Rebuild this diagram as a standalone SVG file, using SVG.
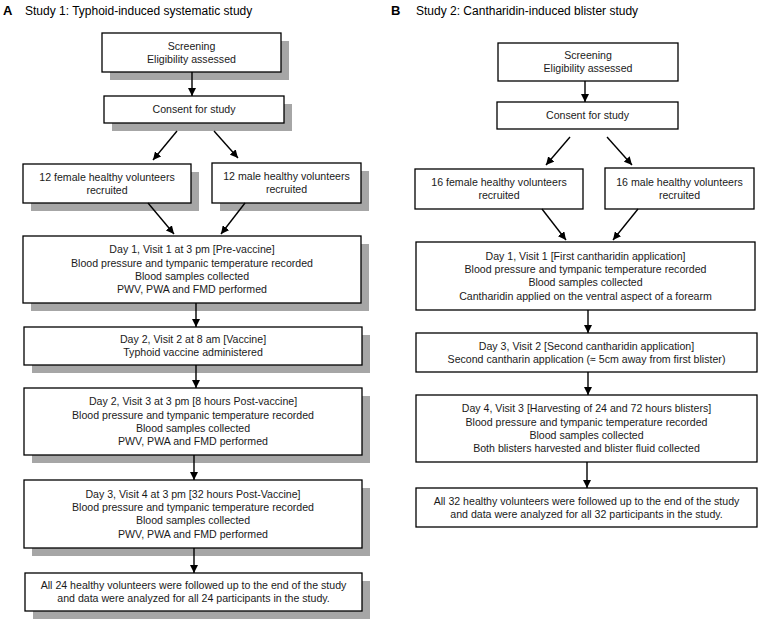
<svg xmlns="http://www.w3.org/2000/svg" width="764" height="623" viewBox="0 0 764 623">
<defs>
<style>
.bg{fill:#ffffff}
.shadow{fill:#a6a6a6}
.box{fill:#ffffff;stroke:#000000;stroke-width:1.3}
.t{font-family:"Liberation Sans",Arial,sans-serif;font-size:10.6px;fill:#1a1a1a;text-anchor:middle}
.h{font-family:"Liberation Sans",Arial,sans-serif;font-size:12px;fill:#000000}
.hb{font-family:"Liberation Sans",Arial,sans-serif;font-size:13px;font-weight:bold;fill:#000000}
.c{stroke:#000000;stroke-width:1.4;fill:none;marker-end:url(#ah)}
</style>
<marker id="ah" markerUnits="userSpaceOnUse" markerWidth="9" markerHeight="8" refX="8" refY="4" orient="auto">
<path d="M0,0 L8,4 L0,8 z" fill="#000000"/>
</marker>
</defs>
<rect class="bg" x="0" y="0" width="764" height="623"/>

<g id="headers">
<text class="hb" x="3" y="14.5">A</text>
<text class="h" x="25" y="14.5">Study 1: Typhoid-induced systematic study</text>
<text class="hb" x="391" y="14.5">B</text>
<text class="h" x="416" y="14.5">Study 2: Cantharidin-induced blister study</text>
</g>

<!-- Panel A nodes -->
<g id="a-screening">
<rect class="shadow" x="110" y="41" width="179" height="39"/>
<rect class="box" x="102" y="33" width="179" height="39"/>
<text class="t" x="191.5" y="49.6">Screening</text>
<text class="t" x="191.5" y="62.9">Eligibility assessed</text>
</g>
<g id="a-consent">
<rect class="shadow" x="112" y="104" width="180" height="27"/>
<rect class="box" x="104" y="96" width="180" height="27"/>
<text class="t" x="194" y="113.3">Consent for study</text>
</g>
<g id="a-female">
<rect class="shadow" x="31" y="172" width="168" height="39"/>
<rect class="box" x="23" y="164" width="168" height="39"/>
<text class="t" x="107" y="180.6">12 female healthy volunteers</text>
<text class="t" x="107" y="193.9">recruited</text>
</g>
<g id="a-male">
<rect class="shadow" x="220" y="171" width="149" height="40"/>
<rect class="box" x="212" y="163" width="149" height="40"/>
<text class="t" x="286.5" y="180.1">12 male healthy volunteers</text>
<text class="t" x="286.5" y="193.4">recruited</text>
</g>
<g id="a-visit1">
<rect class="shadow" x="31" y="244" width="338" height="67"/>
<rect class="box" x="23" y="236" width="338" height="67"/>
<text class="t" x="192" y="253.3">Day 1, Visit 1 at 3 pm [Pre-vaccine]</text>
<text class="t" x="192" y="266.6">Blood pressure and tympanic temperature recorded</text>
<text class="t" x="192" y="279.9">Blood samples collected</text>
<text class="t" x="192" y="293.2">PWV, PWA and FMD performed</text>
</g>
<g id="a-visit2">
<rect class="shadow" x="32" y="335" width="338" height="38"/>
<rect class="box" x="24" y="327" width="338" height="38"/>
<text class="t" x="193" y="343.1">Day 2, Visit 2 at 8 am [Vaccine]</text>
<text class="t" x="193" y="356.4">Typhoid vaccine administered</text>
</g>
<g id="a-visit3">
<rect class="shadow" x="32" y="396" width="338" height="67"/>
<rect class="box" x="24" y="388" width="338" height="67"/>
<text class="t" x="193" y="405.3">Day 2, Visit 3 at 3 pm [8 hours Post-vaccine]</text>
<text class="t" x="193" y="418.6">Blood pressure and tympanic temperature recorded</text>
<text class="t" x="193" y="431.9">Blood samples collected</text>
<text class="t" x="193" y="445.2">PWV, PWA and FMD performed</text>
</g>
<g id="a-visit4">
<rect class="shadow" x="32" y="488" width="338" height="68"/>
<rect class="box" x="24" y="480" width="338" height="68"/>
<text class="t" x="193" y="497.8">Day 3, Visit 4 at 3 pm [32 hours Post-Vaccine]</text>
<text class="t" x="193" y="511.1">Blood pressure and tympanic temperature recorded</text>
<text class="t" x="193" y="524.4">Blood samples collected</text>
<text class="t" x="193" y="537.7">PWV, PWA and FMD performed</text>
</g>
<g id="a-final">
<rect class="shadow" x="33" y="581" width="337" height="38"/>
<rect class="box" x="25" y="573" width="337" height="38"/>
<text class="t" x="193.5" y="589.1">All 24 healthy volunteers were followed up to the end of the study</text>
<text class="t" x="193.5" y="602.4">and data were analyzed for all 24 participants in the study.</text>
</g>

<!-- Panel B nodes -->
<g id="b-screening">
<rect class="box" x="498" y="43" width="180" height="38"/>
<text class="t" x="588" y="59.1">Screening</text>
<text class="t" x="588" y="72.4">Eligibility assessed</text>
</g>
<g id="b-consent">
<rect class="box" x="497" y="102" width="181" height="27"/>
<text class="t" x="587.5" y="119.3">Consent for study</text>
</g>
<g id="b-female">
<rect class="box" x="415" y="169" width="168" height="40"/>
<text class="t" x="499" y="186.1">16 female healthy volunteers</text>
<text class="t" x="499" y="199.4">recruited</text>
</g>
<g id="b-male">
<rect class="box" x="605" y="168" width="149" height="41"/>
<text class="t" x="679.5" y="185.6">16 male healthy volunteers</text>
<text class="t" x="679.5" y="198.9">recruited</text>
</g>
<g id="b-visit1">
<rect class="box" x="416" y="242" width="339" height="68"/>
<text class="t" x="585.5" y="259.8">Day 1, Visit 1 [First cantharidin application]</text>
<text class="t" x="585.5" y="273.1">Blood pressure and tympanic temperature recorded</text>
<text class="t" x="585.5" y="286.4">Blood samples collected</text>
<text class="t" x="585.5" y="299.7">Cantharidin applied on the ventral aspect of a forearm</text>
</g>
<g id="b-visit2">
<rect class="box" x="416" y="333" width="341" height="39"/>
<text class="t" x="586.5" y="349.6">Day 3, Visit 2 [Second cantharidin application]</text>
<text class="t" x="586.5" y="362.9">Second cantharin application (≈ 5cm away from first blister)</text>
</g>
<g id="b-visit3">
<rect class="box" x="416" y="395" width="341" height="67"/>
<text class="t" x="586.5" y="412.3">Day 4, Visit 3 [Harvesting of 24 and 72 hours blisters]</text>
<text class="t" x="586.5" y="425.6">Blood pressure and tympanic temperature recorded</text>
<text class="t" x="586.5" y="438.9">Blood samples collected</text>
<text class="t" x="586.5" y="452.2">Both blisters harvested and blister fluid collected</text>
</g>
<g id="b-final">
<rect class="box" x="416" y="488" width="341" height="39"/>
<text class="t" x="586.5" y="504.6">All 32 healthy volunteers were followed up to the end of the study</text>
<text class="t" x="586.5" y="517.9">and data were analyzed for all 32 participants in the study.</text>
</g>

<g id="connectors">
<line class="c" x1="192" y1="72" x2="192" y2="96"/>
<line class="c" x1="177" y1="131" x2="153" y2="160"/>
<line class="c" x1="214" y1="131" x2="238" y2="158"/>
<line class="c" x1="148" y1="203" x2="174" y2="234"/>
<line class="c" x1="245" y1="203" x2="221" y2="234"/>
<line class="c" x1="196" y1="303" x2="196" y2="327"/>
<line class="c" x1="196" y1="365" x2="196" y2="388"/>
<line class="c" x1="194" y1="455" x2="194" y2="480"/>
<line class="c" x1="194" y1="548" x2="194" y2="573"/>

<line class="c" x1="585" y1="81" x2="585" y2="102"/>
<line class="c" x1="570" y1="137" x2="546" y2="165"/>
<line class="c" x1="607" y1="137" x2="632" y2="165"/>
<line class="c" x1="542" y1="209" x2="566" y2="240"/>
<line class="c" x1="638" y1="209" x2="613" y2="240"/>
<line class="c" x1="588" y1="310" x2="588" y2="333"/>
<line class="c" x1="588" y1="372" x2="588" y2="395"/>
<line class="c" x1="587" y1="462" x2="587" y2="488"/>
</g>
</svg>
